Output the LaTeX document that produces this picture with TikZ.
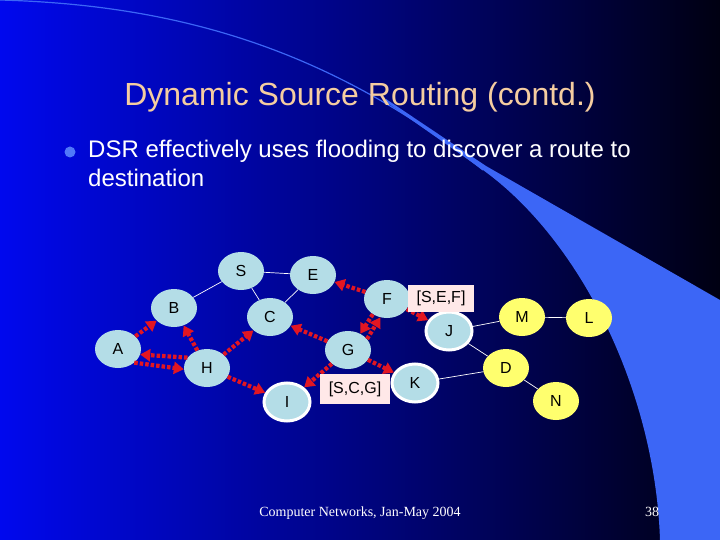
\documentclass[tikz,border=0pt]{standalone}
\usepackage{fontspec}
\setmainfont{Liberation Sans}
\newfontfamily\footfont{Liberation Serif}
\usetikzlibrary{shapes.geometric,arrows.meta}

\definecolor{slideleft}{RGB}{0,8,238}
\definecolor{slidemid}{RGB}{0,0,165}
\definecolor{slideright}{RGB}{0,0,18}
\definecolor{swoosh}{RGB}{60,102,246}
\definecolor{titletan}{RGB}{245,205,160}
\definecolor{bulletblue}{RGB}{80,120,250}
\definecolor{hostcyan}{RGB}{180,221,231}
\definecolor{hostyellow}{RGB}{255,255,110}
\definecolor{floodred}{RGB}{226,22,34}
\definecolor{routepink}{RGB}{255,232,232}

\begin{document}
\begin{tikzpicture}[x=1pt,y=-1pt,
        host/.style={ellipse, fill=hostcyan, minimum width=46pt, minimum height=38pt,
            inner sep=0pt, font=\fontsize{16}{16}\selectfont},
        ringhost/.style={host, draw=white, line width=3pt},
        farhost/.style={host, fill=hostyellow},
        link/.style={white, line width=0.7pt},
        flood/.style={floodred, line width=4.2pt, dash pattern=on 3.5pt off 2pt,
            -{Triangle[length=10pt,width=12pt]}},
        route/.style={fill=routepink, minimum width=66pt, minimum height=27pt,
            inner sep=0pt, font=\fontsize{16}{16}\selectfont}]
        \useasboundingbox (0,0) rectangle (720,540);
        \shade[left color=slideleft, middle color=slidemid, right color=slideright]
            (0,0) rectangle (720,540);
        \fill[swoosh] (386,99) -- (486,166) -- (720,300) -- (720,540) -- (660,540)
            .. controls (655,390) and (580,240) .. (483,170) -- (386,102) -- cycle;
        \draw[swoosh, line width=1.2pt] (0,0) .. controls (180,5) and (330,50) .. (483,170);

        \node[anchor=base, titletan, font=\fontsize{32}{32}\selectfont] (title) at (360,106)
            {Dynamic Source Routing (contd.)};
        \fill[bulletblue] (70,152) circle (5.5pt);
        \node[anchor=base west, white, align=left, inner sep=0pt,
            font=\fontsize{24}{29}\selectfont] (bullet) at (88,187)
            {DSR effectively uses flooding to discover a route to\\destination};

        \node[host] (S) at (241,271) {S};
        \node[host] (E) at (313,275) {E};
        \node[host] (B) at (174,308) {B};
        \node[host] (C) at (270,317) {C};
        \node[host] (A) at (118,349) {A};
        \node[host] (H) at (207,368) {H};
        \node[host] (F) at (387,299) {F};
        \node[host] (G) at (348,350) {G};
        \node[ringhost] (I) at (287,402) {I};
        \node[ringhost] (J) at (449,331) {J};
        \node[ringhost] (K) at (415,383) {K};
        \node[farhost] (M) at (522,317) {M};
        \node[farhost] (L) at (589,318) {L};
        \node[farhost] (D) at (506,368) {D};
        \node[farhost] (N) at (556,401) {N};

        \draw[link] (S) -- (E) (S) -- (B) (S) -- (C) (E) -- (C);
        \draw[link] (J) -- (M) (M) -- (L) (J) -- (D) (K) -- (D) (D) -- (N);

        \draw[flood] (A) -- (B);
        \draw[flood] (H.152) -- (A.-14);
        \draw[flood] (A.-40) -- (H.183);
        \draw[flood] (H) -- (B);
        \draw[flood] (H) -- (C);
        \draw[flood] (H) -- (I);
        \draw[flood] (G) -- (C);
        \draw[flood] (G) -- (I);
        \draw[flood] (G) -- (K);
        \draw[flood] (F) -- (E);
        \draw[flood] (F.227) -- (G.53);
        \draw[flood] (G.30) -- (F.250);
        \draw[flood] (F) -- (J);

        \node[route] (sef) at (441,298) {[S,E,F]};
        \node[route, minimum width=70pt, minimum height=30pt] (scg) at (355,389) {[S,C,G]};

        \node[anchor=base, white, font=\footfont\fontsize{14}{14}\selectfont] (foot) at (360,516)
            {Computer Networks, Jan-May 2004};
        \node[anchor=base, white, font=\footfont\fontsize{14}{14}\selectfont] (page) at (652,516) {38};
\end{tikzpicture}
\end{document}
